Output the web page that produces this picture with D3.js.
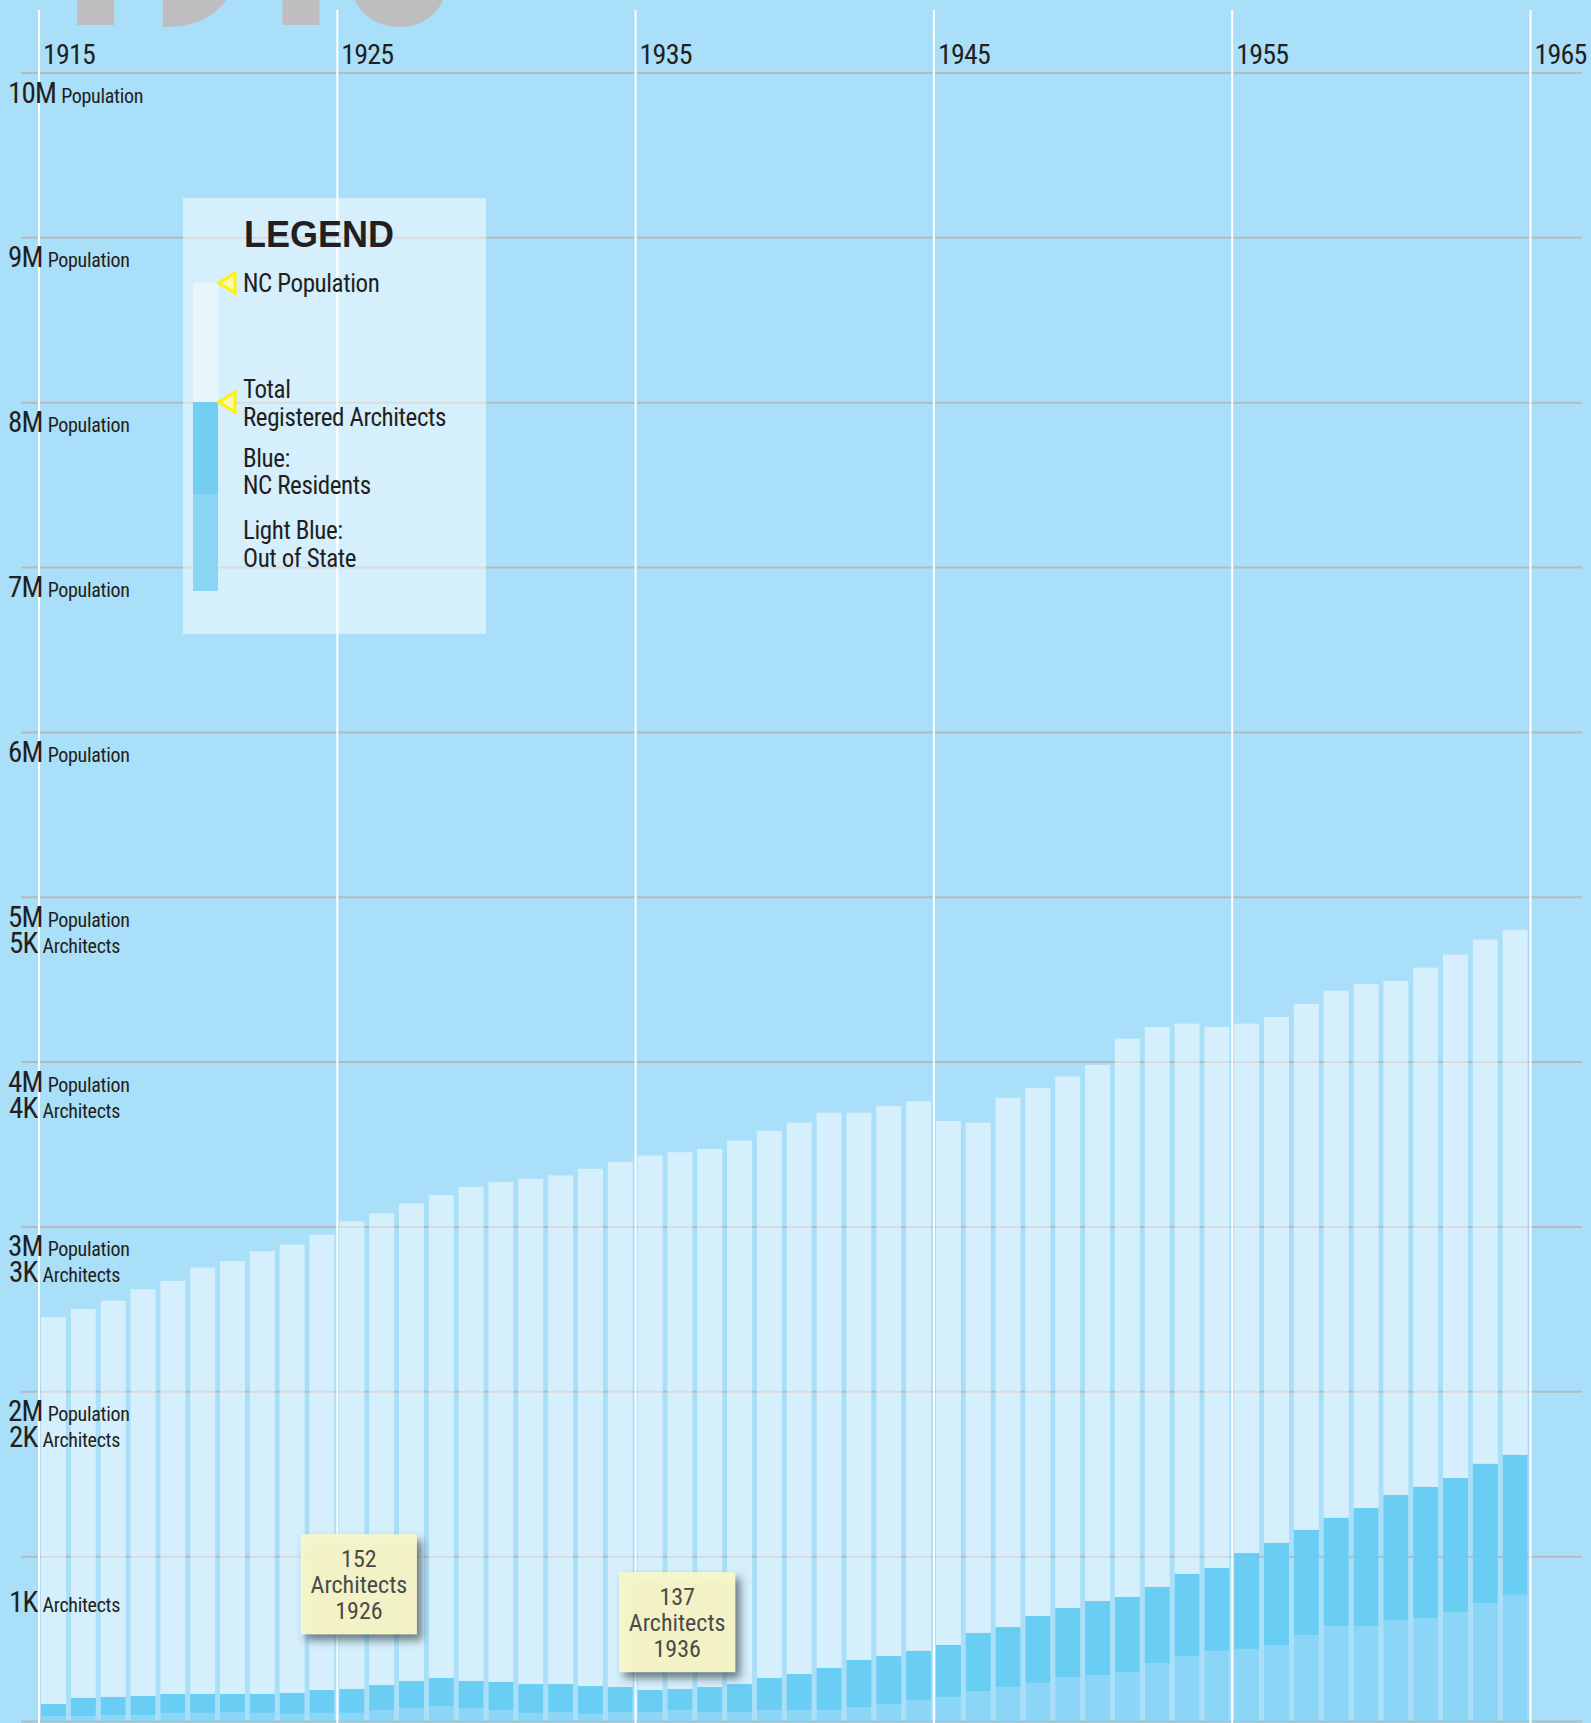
<!DOCTYPE html>
<html>
<head>
<meta charset="utf-8">
<script src="https://cdn.jsdelivr.net/npm/d3@7"></script>
<style>
  body { margin: 0; background: #aadff9; }
</style>
</head>
<body>
<div id="chart"></div>
<script>
// NC population (millions) and registered architects, 1915-1964
const years = [1915, 1916, 1917, 1918, 1919, 1920, 1921, 1922, 1923, 1924,
    1925, 1926, 1927, 1928, 1929, 1930, 1931, 1932, 1933, 1934,
    1935, 1936, 1937, 1938, 1939, 1940, 1941, 1942, 1943, 1944,
    1945, 1946, 1947, 1948, 1949, 1950, 1951, 1952, 1953, 1954,
    1955, 1956, 1957, 1958, 1959, 1960, 1961, 1962, 1963, 1964];

const population = [2.45, 2.50, 2.55, 2.62, 2.67, 2.75, 2.79, 2.85, 2.89, 2.95,
    3.03, 3.08, 3.14, 3.19, 3.24, 3.27, 3.29, 3.31, 3.35, 3.39,
    3.43, 3.45, 3.47, 3.52, 3.58, 3.63, 3.69, 3.69, 3.73, 3.76,
    3.64, 3.63, 3.78, 3.84, 3.91, 3.98, 4.14, 4.21, 4.23, 4.21,
    4.23, 4.27, 4.35, 4.43, 4.47, 4.49, 4.57, 4.65, 4.74, 4.80];

const totalArchitects = [103, 140, 146, 152, 164, 164, 164, 164, 170, 188,
    194, 218, 243, 261, 243, 237, 224, 224, 212, 206,
    188, 194, 206, 224, 261, 285, 322, 370, 394, 425,
    461, 534, 570, 637, 686, 728, 752, 813, 892, 928,
    1019, 1080, 1159, 1232, 1292, 1371, 1420, 1474, 1560, 1614];

const outOfState = [30, 30, 36, 36, 49, 49, 55, 49, 43, 49,
    49, 67, 79, 91, 79, 67, 49, 55, 43, 51,
    51, 63, 55, 55, 67, 67, 67, 85, 103, 127,
    146, 182, 206, 231, 267, 279, 297, 352, 394, 425,
    437, 461, 522, 576, 576, 613, 625, 661, 716, 765];

const yearTicks = [1915, 1925, 1935, 1945, 1955, 1965];
const gridValues = [0, 1, 2, 3, 4, 5, 6, 7, 8, 9, 10];
const popTicks = [2, 3, 4, 5, 6, 7, 8, 9, 10];
const archTicks = [1, 2, 3, 4, 5];

const notes = [
    { year: 1926, count: 152, at: 1925.74, level: 0.83 },
    { year: 1936, count: 137, at: 1936.41, level: 0.60 }
];

const legendItems = [
    ["NC Population"],
    ["Total", "Registered Architects"],
    ["Blue:", "NC Residents"],
    ["Light Blue:", "Out of State"]
];

const narrow = "'Liberation Sans Narrow', 'Arial Narrow', 'Roboto Condensed', sans-serif";
const ink = "#231f20";

var width = 1591, height = 1723;

var rows = years.map((yr, i) => ({
    year: yr,
    pop: population[i],
    total: totalArchitects[i] / 1000,
    out: outOfState[i] / 1000
}));

var x = d3.scaleLinear().domain([1915, 1965]).range([38.5, 1530]);
var y = d3.scaleLinear().domain([0, 10]).range([1721, 72.5]);

var svg = d3.select("#chart")
    .append("svg")
    .attr("width", width)
    .attr("height", height)
    .style("display", "block");

var defs = svg.append("defs");
defs.append("filter")
    .attr("id", "shadow")
    .attr("x", "-20%").attr("y", "-20%")
    .attr("width", "150%").attr("height", "150%")
    .append("feDropShadow")
    .attr("dx", 5).attr("dy", 6)
    .attr("stdDeviation", 4)
    .attr("flood-color", "#2d3a40")
    .attr("flood-opacity", 0.7);

svg.append("rect")
    .attr("width", width)
    .attr("height", height)
    .attr("fill", "#aadff9");

// big year, mostly cut off at the top
svg.append("text")
    .attr("x", 38)
    .attr("y", 21)
    .attr("font-family", "Roboto, sans-serif")
    .attr("font-weight", 900)
    .attr("font-size", 177)
    .attr("fill", "#bebec1")
    .attr("stroke", "#bebec1")
    .attr("stroke-width", 8)
    .text("1916");

// horizontal grid
var grid = svg.append("g")
    .attr("transform", "translate(21,0)")
    .call(d3.axisLeft(y).tickValues(gridValues).tickSize(-(1582 - 21)).tickFormat(""));
grid.select(".domain").remove();
grid.selectAll("line")
    .attr("stroke", "#b4babe")
    .attr("stroke-width", 2);

// population bars
svg.append("g")
    .selectAll("rect")
    .data(rows)
    .join("rect")
    .attr("x", d => x(d.year) + 2.5)
    .attr("width", 25)
    .attr("y", d => y(d.pop))
    .attr("height", d => y(0) - y(d.pop))
    .attr("fill", "#ffffff")
    .attr("fill-opacity", 0.5);

// architects living in NC
svg.append("g")
    .selectAll("rect")
    .data(rows)
    .join("rect")
    .attr("x", d => x(d.year) + 2.5)
    .attr("width", 25)
    .attr("y", d => y(d.total))
    .attr("height", d => y(d.out) - y(d.total))
    .attr("fill", "#57c7f1")
    .attr("fill-opacity", 0.85);

// out of state architects
svg.append("g")
    .selectAll("rect")
    .data(rows)
    .join("rect")
    .attr("x", d => x(d.year) + 2.5)
    .attr("width", 25)
    .attr("y", d => y(d.out))
    .attr("height", d => y(0) - y(d.out))
    .attr("fill", "#7ed1f4")
    .attr("fill-opacity", 0.85);

// year axis: white verticals with labels
var xAxis = svg.append("g")
    .attr("transform", "translate(0,10)")
    .call(d3.axisTop(x).tickValues(yearTicks).tickSize(-(height - 10)).tickFormat(d3.format("d")));
xAxis.select(".domain").remove();
xAxis.selectAll("line")
    .attr("stroke", "#ffffff")
    .attr("stroke-width", 2);
xAxis.selectAll("text")
    .attr("x", 4)
    .attr("y", 54)
    .attr("dy", null)
    .attr("text-anchor", "start")
    .attr("font-family", narrow)
    .attr("font-size", 28)
    .attr("letter-spacing", -0.8)
    .attr("fill", ink);

// legend
var legend = svg.append("g");
legend.append("rect")
    .attr("x", 183).attr("y", 198)
    .attr("width", 303).attr("height", 436)
    .attr("fill", "#ffffff")
    .attr("fill-opacity", 0.5);

legend.append("text")
    .attr("x", 244).attr("y", 247)
    .attr("font-family", "'Liberation Sans', Arial, sans-serif")
    .attr("font-weight", "bold")
    .attr("font-size", 36)
    .attr("fill", ink)
    .text("LEGEND");

var legendBar = [
    { top: 283, bottom: 402, fill: "#e8f6fc" },
    { top: 402, bottom: 494, fill: "#72cff2" },
    { top: 494, bottom: 591, fill: "#8bd5f4" }
];
legend.selectAll(".seg")
    .data(legendBar)
    .join("rect")
    .attr("class", "seg")
    .attr("x", 193)
    .attr("width", 25)
    .attr("y", d => d.top)
    .attr("height", d => d.bottom - d.top)
    .attr("fill", d => d.fill);

legend.selectAll(".marker")
    .data([283, 402])
    .join("path")
    .attr("class", "marker")
    .attr("d", d => `M219,${d} L235,${d - 10} L235,${d + 10} Z`)
    .attr("fill", "#fbf8b4")
    .attr("stroke", "#fff200")
    .attr("stroke-width", 3)
    .attr("stroke-linejoin", "miter");

var legendBaselines = [[292], [398, 426], [467, 494], [539, 567]];
legendItems.forEach((lines, i) => {
    lines.forEach((line, j) => {
        legend.append("text")
            .attr("x", 243)
            .attr("y", legendBaselines[i][j])
            .attr("font-family", narrow)
            .attr("font-size", 25)
            .attr("letter-spacing", -0.4)
            .attr("fill", ink)
            .text(line);
    });
});

// annotation notes
var note = svg.append("g")
    .selectAll("g")
    .data(notes)
    .join("g")
    .attr("transform", d => `translate(${x(d.at)},${y(d.level)})`);

note.append("rect")
    .attr("x", -58).attr("y", -50)
    .attr("width", 116).attr("height", 100)
    .attr("fill", "#f7f8c9")
    .attr("fill-opacity", 0.93)
    .attr("filter", "url(#shadow)");

note.selectAll("text")
    .data(d => [d.count, "Architects", d.year])
    .join("text")
    .attr("x", 0)
    .attr("y", (d, i) => -17 + i * 26)
    .attr("text-anchor", "middle")
    .attr("font-family", narrow)
    .attr("font-size", 24)
    .attr("fill", "#4a4a4a")
    .text(d => d);

// left labels
var labels = svg.append("g");
labels.selectAll(".popLabel")
    .data(popTicks)
    .join("text")
    .attr("class", "popLabel")
    .attr("x", 8)
    .attr("y", d => y(d) + 30)
    .attr("font-family", narrow)
    .attr("fill", ink)
    .call(t => {
        t.append("tspan").attr("font-size", 29).attr("letter-spacing", -0.8).text(d => d + "M");
        t.append("tspan").attr("dx", 5).attr("font-size", 20).attr("letter-spacing", -0.3).text("Population");
    });

labels.selectAll(".archLabel")
    .data(archTicks)
    .join("text")
    .attr("class", "archLabel")
    .attr("x", 9)
    .attr("y", d => y(d) + 56)
    .attr("font-family", narrow)
    .attr("fill", ink)
    .call(t => {
        t.append("tspan").attr("font-size", 29).attr("letter-spacing", -0.8).text(d => d + "K");
        t.append("tspan").attr("dx", 5).attr("font-size", 20).attr("letter-spacing", -0.3).text("Architects");
    });
</script>
</body>
</html>
